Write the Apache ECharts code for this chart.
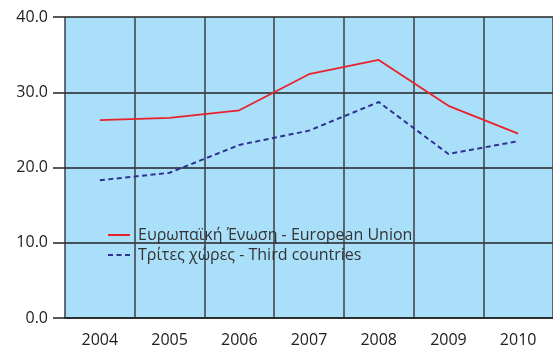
<!DOCTYPE html>
<html>
<head>
<meta charset="utf-8">
<script src="https://cdn.jsdelivr.net/npm/echarts@6/dist/echarts.min.js"></script>
<style>
  html, body { margin: 0; padding: 0; background: #ffffff; }
  #chart { width: 553px; height: 348px; }
</style>
</head>
<body>
<div id="chart"></div>
<script>
// Years on the horizontal axis
const years = ['2004', '2005', '2006', '2007', '2008', '2009', '2010'];
// European Union series
const euValues = [26.3, 26.6, 27.6, 32.4, 34.3, 28.2, 24.5];
// Third countries series
const thirdValues = [18.3, 19.3, 23.0, 24.9, 28.7, 21.8, 23.5];
// Series names shown in the legend
const euName = 'Ευρωπαϊκή Ένωση - European Union';
const thirdName = 'Τρίτες χώρες - Third countries';

const chart = echarts.init(document.getElementById('chart'), null, { renderer: 'canvas' });
const font = '"Open Sans", "DejaVu Sans", sans-serif';

chart.setOption({
  animation: false,
  backgroundColor: '#ffffff',
  grid: {
    left: 65, top: 17, bottom: 28.5, right: -3.4,
    show: true, backgroundColor: '#aadff9', borderWidth: 0
  },
  legend: {
    orient: 'vertical',
    left: 102, top: 222,
    itemWidth: 22, itemHeight: 14, itemGap: 4,
    // only the line part of the legend icon is shown
    itemStyle: { opacity: 0 },
    textStyle: { fontFamily: font, fontSize: 16, color: '#333333', padding: [0, 0, 0, 3] },
    data: [euName, thirdName]
  },
  xAxis: {
    type: 'category',
    data: years,
    boundaryGap: true,
    axisLine: { show: true, lineStyle: { color: '#222222', width: 1.5 } },
    axisTick: { show: false },
    axisLabel: { fontFamily: font, fontSize: 16, color: '#222222', margin: 14 },
    splitLine: { show: true, lineStyle: { color: '#3a3f44', width: 1.5 } }
  },
  yAxis: {
    type: 'value',
    min: 0, max: 40, interval: 10,
    axisLine: { show: false },
    axisTick: { show: true, length: 12, lineStyle: { color: '#222222', width: 1.5 } },
    axisLabel: {
      fontFamily: font, fontSize: 16, color: '#222222', margin: 17,
      formatter: v => v.toFixed(1)
    },
    splitLine: { show: true, lineStyle: { color: '#222222', width: 1.5 } }
  },
  series: [
    {
      name: euName, type: 'line', data: euValues,
      symbol: 'none', showSymbol: false,
      itemStyle: { color: '#e8222b' },
      lineStyle: { color: '#e8222b', width: 1.8 }
    },
    {
      name: thirdName, type: 'line', data: thirdValues,
      symbol: 'none', showSymbol: false,
      itemStyle: { color: '#2e3192' },
      lineStyle: { color: '#2e3192', width: 2, type: [5, 3.5] }
    }
  ]
});
</script>
</body>
</html>
